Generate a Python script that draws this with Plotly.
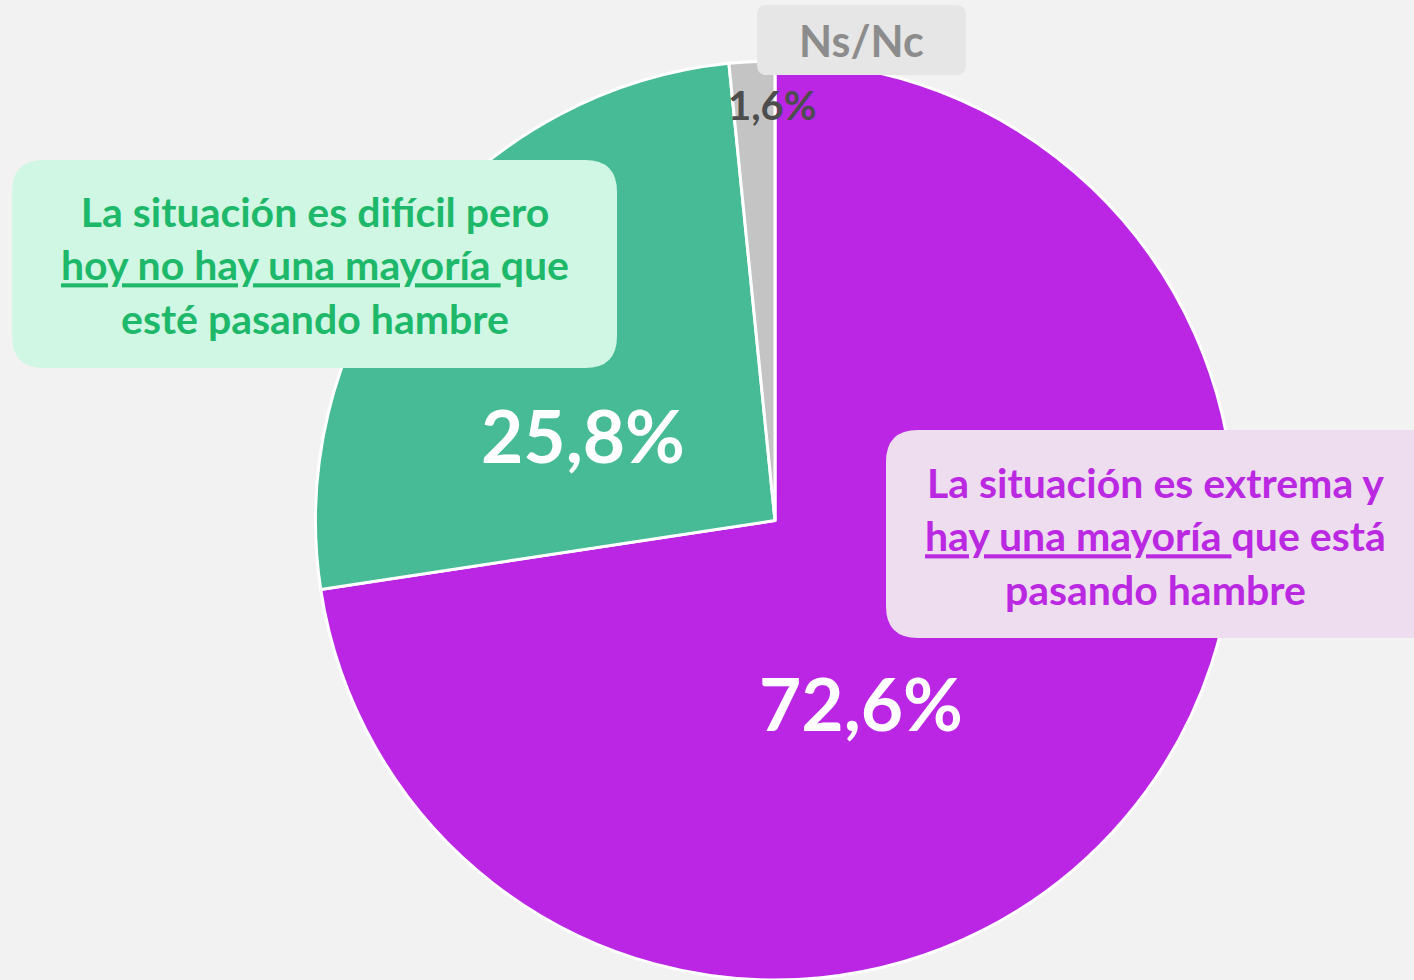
import plotly.graph_objects as go

categories = ["La situación es extrema y hay una mayoría que está pasando hambre",
              "La situación es difícil pero hoy no hay una mayoría que esté pasando hambre",
              "Ns/Nc"]
values = [72.6, 25.8, 1.6]
slice_colors = ["#BA26E4", "#46BB96", "#C4C4C4"]

box_texts = [
    "La situación es extrema y<br><u>hay una mayoría </u>que está<br>pasando hambre",
    "La situación es difícil pero<br><u>hoy no hay una mayoría </u>que<br>esté pasando hambre",
    "Ns/Nc",
]

W, H = 1414, 980
FONT = "Lato"


def fmt(v):
    return f"{v:.1f}".replace(".", ",") + "%"


def px(x):
    return x / W


def py(y):
    return 1 - y / H


def rrect(x0, y0, x1, y1, r):
    pts = [
        f"M {px(x0 + r)},{py(y0)}",
        f"L {px(x1 - r)},{py(y0)}",
        f"Q {px(x1)},{py(y0)} {px(x1)},{py(y0 + r)}",
        f"L {px(x1)},{py(y1 - r)}",
        f"Q {px(x1)},{py(y1)} {px(x1 - r)},{py(y1)}",
        f"L {px(x0 + r)},{py(y1)}",
        f"Q {px(x0)},{py(y1)} {px(x0)},{py(y1 - r)}",
        f"L {px(x0)},{py(y0 + r)}",
        f"Q {px(x0)},{py(y0)} {px(x0 + r)},{py(y0)}",
        "Z",
    ]
    return " ".join(pts)


fig = go.Figure()
fig.add_trace(go.Pie(
    labels=categories,
    values=values,
    sort=False,
    direction="clockwise",
    rotation=0,
    marker=dict(colors=slice_colors, line=dict(color="white", width=3)),
    textinfo="none",
    hoverinfo="label+percent",
    showlegend=False,
    domain=dict(x=[315 / W, 1235 / W], y=[0, 919 / H]),
))

shapes = [
    dict(type="path", xref="paper", yref="paper", path=rrect(886, 430, 1440, 638, 32),
         fillcolor="#EDDDEE", line=dict(width=0), layer="above"),
    dict(type="path", xref="paper", yref="paper", path=rrect(12, 160, 617, 368, 32),
         fillcolor="#D0F7E4", line=dict(width=0), layer="above"),
    dict(type="path", xref="paper", yref="paper", path=rrect(757, 5, 966, 75, 10),
         fillcolor="#E6E6E6", line=dict(width=0), layer="above"),
]

annotations = [
    # box texts
    dict(x=px(1155), y=py(536), text=box_texts[0], showarrow=False, xanchor="center", yanchor="middle",
         font=dict(family=FONT, size=41, color="#BA28E2", weight="bold"), align="center"),
    dict(x=px(315), y=py(265), text=box_texts[1], showarrow=False, xanchor="center", yanchor="middle",
         font=dict(family=FONT, size=41, color="#1EB86A", weight="bold"), align="center"),
    dict(x=px(861), y=py(40), text=box_texts[2], showarrow=False, xanchor="center", yanchor="middle",
         font=dict(family=FONT, size=43, color="#8C8C8C", weight="bold"), align="center"),
    # value labels
    dict(x=px(861), y=py(703), text=fmt(values[0]), showarrow=False, xanchor="center", yanchor="middle",
         font=dict(family=FONT, size=73, color="white", weight="bold")),
    dict(x=px(583), y=py(435), text=fmt(values[1]), showarrow=False, xanchor="center", yanchor="middle",
         font=dict(family=FONT, size=73, color="white", weight="bold")),
    dict(x=px(773), y=py(105), text=fmt(values[2]), showarrow=False, xanchor="center", yanchor="middle",
         font=dict(family=FONT, size=40, color="#4D4D4D", weight="bold")),
]

fig.update_layout(
    width=W, height=H,
    margin=dict(l=0, r=0, t=0, b=0),
    paper_bgcolor="#F2F2F2",
    plot_bgcolor="#F2F2F2",
    shapes=shapes,
    annotations=annotations,
)

fig.write_html("out.html",
               config={"displayModeBar": False},
               post_script="document.body.style.margin='0';document.body.style.background='#F2F2F2';")
